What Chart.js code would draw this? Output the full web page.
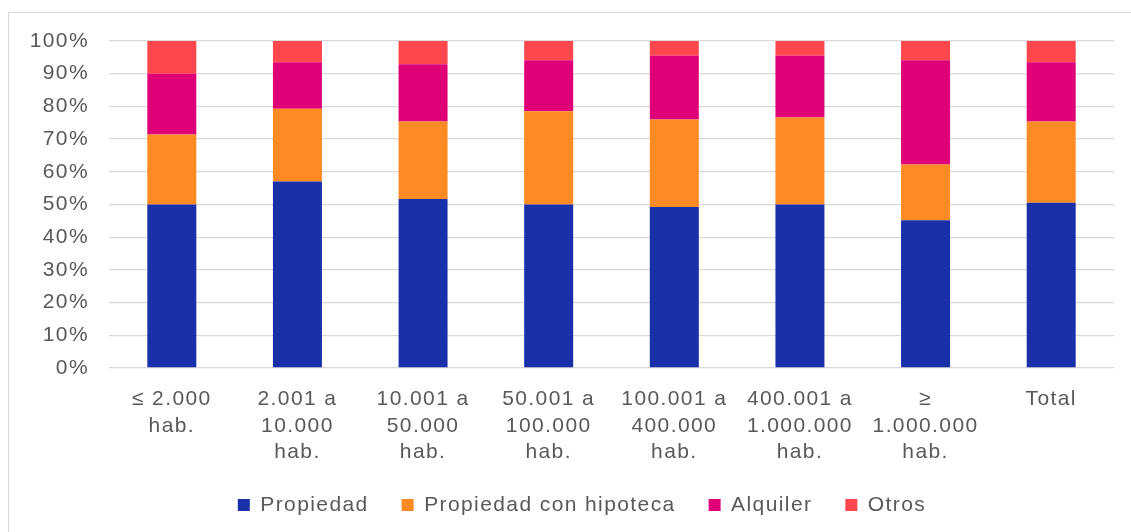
<!DOCTYPE html>
<html>
<head>
<meta charset="utf-8">
<script src="https://cdn.jsdelivr.net/npm/chart.js@4/dist/chart.umd.min.js"></script>
<style>
  html, body { margin: 0; padding: 0; background: #ffffff; }
  #wrap { position: relative; width: 1131px; height: 532px; overflow: hidden; }
  #frame { position: absolute; left: 8px; top: 12px; width: 1140px; height: 540px; border: 1px solid #d9d9d9; box-sizing: border-box; }
  canvas { position: absolute; left: 0; top: 0; }
</style>
</head>
<body>
<div id="wrap">
  <div id="frame"></div>
  <canvas id="chart" width="1131" height="532"></canvas>
</div>
<script>
// Régimen de tenencia de la vivienda según tamaño del municipio (%)
const categories = [
  ['≤ 2.000', 'hab.'],
  ['2.001 a', '10.000', 'hab.'],
  ['10.001 a', '50.000', 'hab.'],
  ['50.001 a', '100.000', 'hab.'],
  ['100.001 a', '400.000', 'hab.'],
  ['400.001 a', '1.000.000', 'hab.'],
  ['≥', '1.000.000', 'hab.'],
  ['Total']
];
const propiedad   = [50.0, 57.0, 51.7, 50.0, 49.2, 50.0, 45.2, 50.5];
const hipoteca    = [21.4, 22.3, 23.7, 28.5, 26.8, 26.6, 17.0, 24.9];
const alquiler    = [18.6, 14.2, 17.5, 15.6, 19.5, 18.9, 31.9, 18.1];
const otros       = [10.0,  6.5,  7.1,  5.9,  4.5,  4.5,  5.9,  6.5];
const seriesNames = ['Propiedad', 'Propiedad con hipoteca', 'Alquiler', 'Otros'];
const seriesColors = ['#1a30a8', '#fd8a22', '#df0077', '#ff474d'];
const yTicks = [0, 10, 20, 30, 40, 50, 60, 70, 80, 90, 100];

const textColor = '#595959';
const baseFont = { family: "'Liberation Sans', Arial, sans-serif", size: 21 };
const LEGEND_HEIGHT = 64;

// Spaced-out lettering for all chart text; the legend row gets a fixed
// height and is shifted so it sits under the centre of the plot.
const letterSpacing = {
  id: 'letterSpacing',
  beforeUpdate(chart) { chart.ctx.letterSpacing = '1.4px'; },
  beforeLayout(chart) {
    chart.ctx.letterSpacing = '1.4px';
    const lg = chart.legend;
    if (lg && !lg._fixedHeight) {
      const fit = lg.fit;
      lg.fit = function () { fit.apply(this, arguments); this.height = LEGEND_HEIGHT; };
      lg._fixedHeight = true;
    }
  },
  afterLayout(chart) {
    const lg = chart.legend;
    if (lg) {
      lg.left += 25; lg.right += 25;
      lg.top -= 6.5; lg.bottom -= 6.5;
    }
  },
  beforeDraw(chart) { chart.ctx.letterSpacing = '1.4px'; }
};

const values = [propiedad, hipoteca, alquiler, otros];
const datasets = seriesNames.map((name, i) => ({
  label: name,
  data: values[i],
  backgroundColor: seriesColors[i],
  borderWidth: 0,
  categoryPercentage: 1,
  barPercentage: 0.39
}));

new Chart(document.getElementById('chart'), {
  type: 'bar',
  data: { labels: categories, datasets },
  plugins: [letterSpacing],
  options: {
    responsive: false,
    animation: false,
    layout: { padding: { top: 41, right: 17, bottom: 0, left: 0 } },
    plugins: {
      legend: {
        position: 'bottom',
        labels: {
          boxWidth: 12, boxHeight: 12, padding: 33,
          color: textColor, font: baseFont
        }
      },
      tooltip: { enabled: false }
    },
    scales: {
      x: {
        stacked: true,
        grid: { display: false, drawTicks: false },
        border: { display: false },
        ticks: {
          color: textColor,
          font: { ...baseFont, lineHeight: 1.27 },
          padding: 18,
          maxRotation: 0, autoSkip: false
        },
        afterFit(scale) { scale.height = 100; }
      },
      y: {
        stacked: true,
        min: 0, max: 100,
        afterBuildTicks(scale) { scale.ticks = yTicks.map(v => ({ value: v })); },
        grid: { color: '#d9d9d9', lineWidth: 1.3, drawTicks: false },
        border: { display: false },
        ticks: {
          color: textColor, font: baseFont, padding: 20,
          callback: v => v + '%'
        },
        afterFit(scale) { scale.width = 109; }
      }
    }
  }
});
</script>
</body>
</html>
